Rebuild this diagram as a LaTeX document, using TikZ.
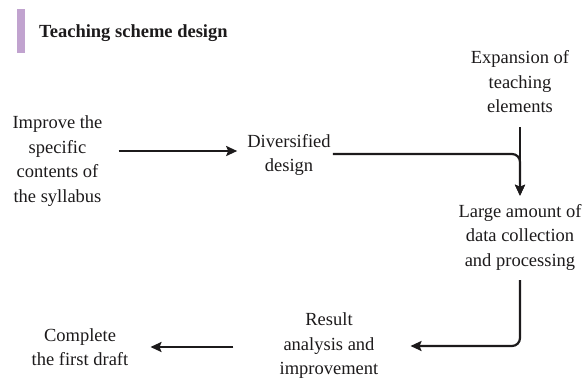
\documentclass[tikz,border=0pt]{standalone}
\usepackage{fontspec}
\setmainfont{Liberation Serif}
\usetikzlibrary{arrows.meta}
\definecolor{barpurple}{RGB}{193,163,207}
\definecolor{inkgray}{RGB}{28,26,27}
\tikzstyle{every node}=[inner sep=0pt,align=center,text=inkgray,font=\fontsize{18.5}{24.5}\selectfont]
\tikzstyle{flow}=[draw=inkgray,line width=2.2pt,-{Stealth[length=11pt,width=10pt,inset=2pt]}]

\begin{document}
\begin{tikzpicture}[x=1pt,y=-1pt]
  \useasboundingbox (0,0) rectangle (584,381);
  \fill[barpurple] (17,9) rectangle (25,53);
  \node[anchor=west,font=\fontsize{18.5}{22}\selectfont\bfseries] (title) at (39,33) {Teaching scheme design};

  \node (improve) at (57.5,161) {Improve the\\specific\\contents of\\the syllabus};
  \node (diverse) at (289,155) {Diversified\\design};
  \node (expand) at (520,82) {Expansion of\\teaching\\elements};
  \node (collect) at (520,237) {Large amount of\\data collection\\and processing};
  \node (result) at (329,346) {Result\\analysis and\\improvement};
  \node (draft) at (80,347) {Complete\\the first draft};

  \draw[flow] ([xshift=16pt,yshift=4pt]improve.east |- diverse.west) -- ([xshift=-10pt,yshift=4pt]diverse.west);
  \draw[flow,rounded corners=8pt] ([xshift=2pt,yshift=1pt]diverse.east) -| ([yshift=8pt]collect.north);
  \draw[flow] ([yshift=-14pt]expand.south) -- ([yshift=8pt]collect.north);
  \draw[flow,rounded corners=8pt] ([yshift=-10pt]collect.south) |- ([xshift=32pt]result.east);
  \draw[flow] ([xshift=-46pt]result.west |- draft.east) -- ([xshift=22pt]draft.east);
\end{tikzpicture}
\end{document}
